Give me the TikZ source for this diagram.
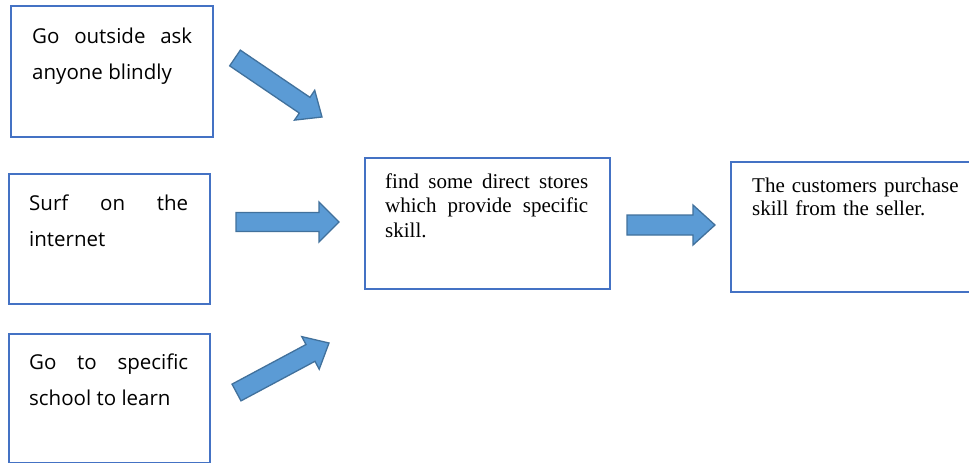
\documentclass[tikz,border=0pt]{standalone}
\usepackage{fontspec}
\setmainfont{Liberation Serif}
\newfontfamily\boxsans{Open Sans}
\usetikzlibrary{calc}
\definecolor{boxblue}{HTML}{4472C4}
\definecolor{arrfill}{HTML}{5B9BD5}
\definecolor{arrline}{HTML}{41719C}
% #1 tail coordinate, #2 tip coordinate, #3 half shaft width, #4 half head width, #5 head length
\newcommand{\blockarrow}[5]{%
  \coordinate (#1-#2-hb) at ($(#2)!#5pt!(#1)$);
  \draw[blockarr] ($(#1)!#3pt!90:(#2)$) -- ($(#1-#2-hb)!#3pt!90:(#2)$)
    -- ($(#1-#2-hb)!#4pt!90:(#2)$) -- (#2) -- ($(#1-#2-hb)!#4pt!-90:(#2)$)
    -- ($(#1-#2-hb)!#3pt!-90:(#2)$) -- ($(#1)!#3pt!-90:(#2)$) -- cycle;}
\tikzset{
  box/.style={draw=boxblue, line width=2pt, fill=white, rectangle, inner sep=0pt, anchor=north west},
  sanstext/.style={anchor=base west, inner sep=0pt, align=justify,
    font=\boxsans\fontsize{20.5}{36.5}\selectfont},
  seriftext/.style={anchor=base west, inner sep=0pt,
    font=\fontsize{21}{24.5}\selectfont},
  blockarr/.style={fill=arrfill, draw=arrline, line width=1.3pt, line join=miter}
}
\begin{document}
\begin{tikzpicture}[x=1pt, y=-1pt]
\useasboundingbox (0,0) rectangle (969,463);
\fill[white] (0,0) rectangle (969,463);
% boxes
\node[box, minimum width=202pt, minimum height=131pt] (b1) at (10,5) {};
\node[box, minimum width=201pt, minimum height=130pt] (b2) at (8,173) {};
\node[box, minimum width=201pt, minimum height=129pt] (b3) at (8,333) {};
\node[box, minimum width=245pt, minimum height=131pt] (b4) at (364,157) {};
\node[box, minimum width=250pt, minimum height=130pt] (b5) at (730,161) {};
% texts
\node[sanstext, text width=160pt] (t1) at (32,43) {Go outside ask\linebreak anyone blindly};
\node[sanstext, text width=159pt] (t2) at (29,210) {Surf on the\linebreak internet};
\node[sanstext, text width=159pt] (t3) at (29,369) {Go to specific\linebreak school to learn};
\node[seriftext, text width=203pt, align=justify] (t4) at (385,188) {find some direct stores\linebreak which provide specific\linebreak skill.};
\node[seriftext, text width=215pt, align=left, font=\fontsize{21}{23.5}\selectfont] (t5) at (752,192) {The customers purchase\\skill from the seller.};
% arrow end points
\coordinate (a1s) at (235,58);
\coordinate (a1e) at (322,117);
\coordinate (a2s) at (236,222);
\coordinate (a2e) at (339,222);
\coordinate (a3s) at (236.5,392.5);
\coordinate (a3e) at (329,343);
\coordinate (a4s) at (627,225);
\coordinate (a4e) at (715,225);
\blockarrow{a1s}{a1e}{9.5}{18}{21}
\blockarrow{a2s}{a2e}{9.5}{20}{20}
\blockarrow{a3s}{a3e}{9.5}{18.5}{21}
\blockarrow{a4s}{a4e}{10}{20}{22}
\end{tikzpicture}
\end{document}
